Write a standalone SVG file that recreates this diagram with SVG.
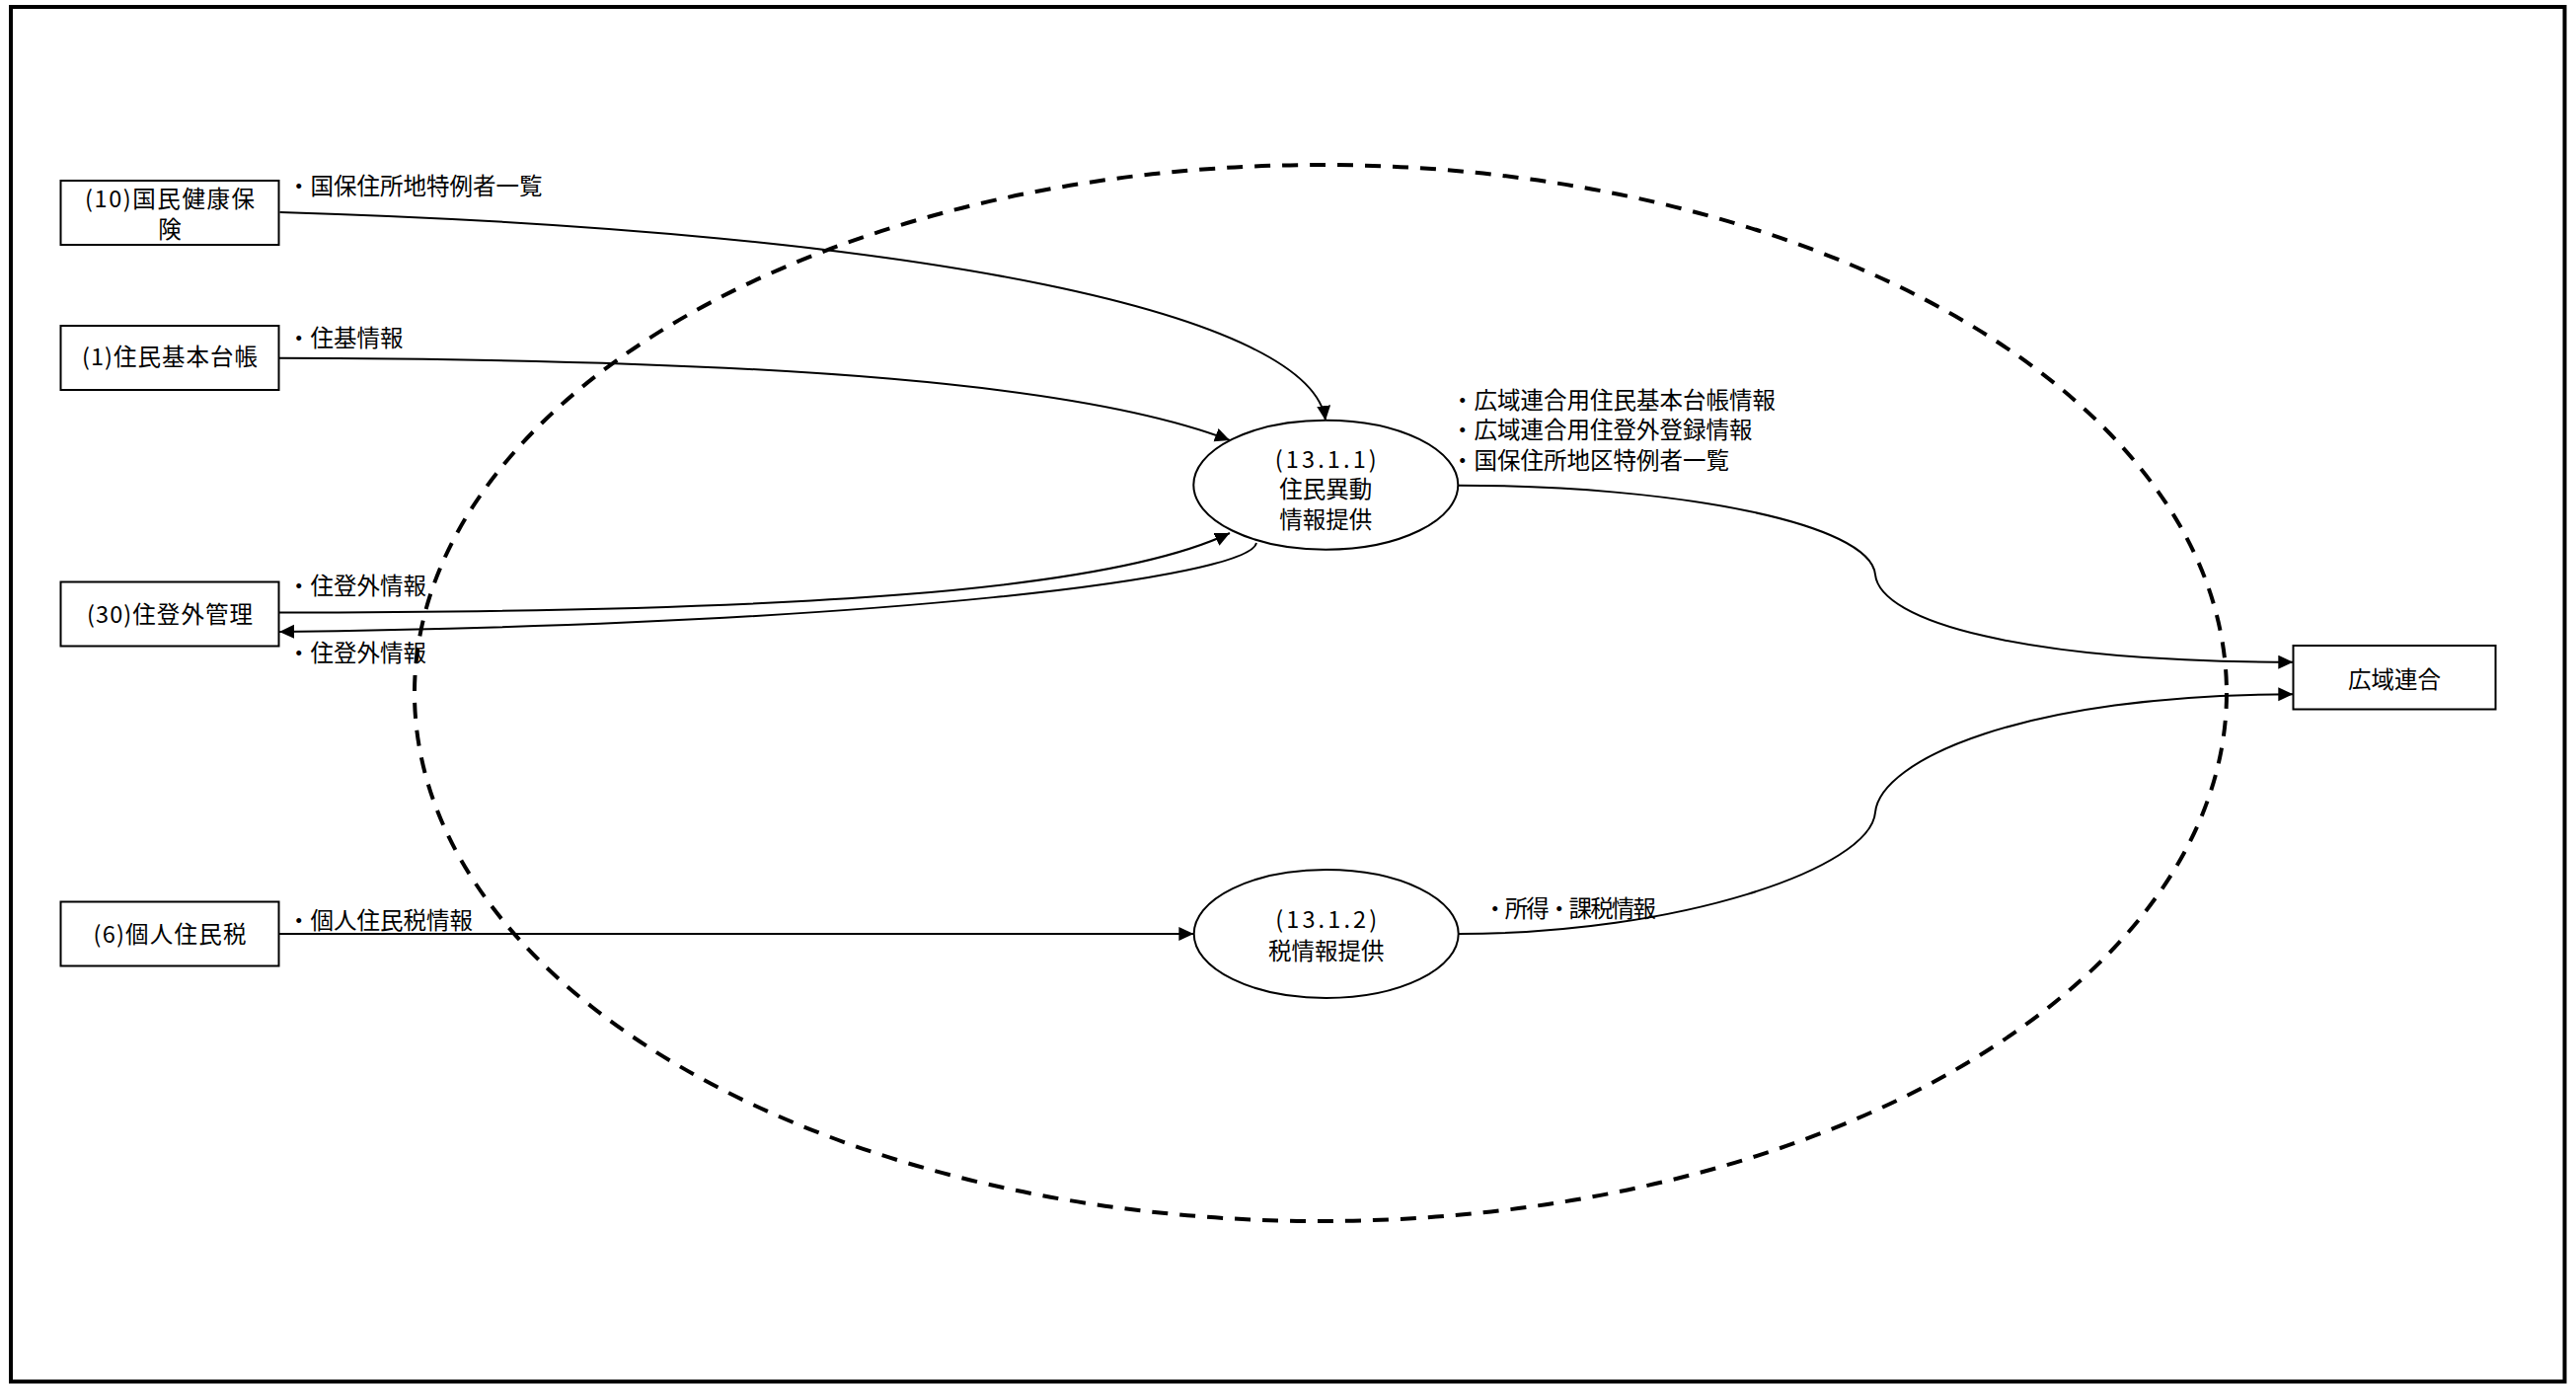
<svg xmlns="http://www.w3.org/2000/svg" width="2610" height="1402" viewBox="0 0 2610 1402">
<style>
  text { font-family: "Noto Sans CJK JP", "Noto Sans CJK SC", sans-serif; font-size: 23.5px; fill: #000; }
  .box { fill: #fff; stroke: #000; stroke-width: 2; }
  .proc { fill: #fff; stroke: #000; stroke-width: 2; }
  .mid { text-anchor: middle; }
  .edge { fill: none; stroke: #000; stroke-width: 2; }
  .arr { marker-end: url(#ah); }
  .boundary { fill: none; stroke: #000; stroke-width: 4; stroke-dasharray: 16 12; }
</style>
<defs>
  <marker id="ah" markerUnits="userSpaceOnUse" markerWidth="16" markerHeight="16" refX="15" refY="7" orient="auto">
    <path d="M0,0 L15,7 L0,14 z" fill="#000"/>
  </marker>
</defs>
<rect x="0" y="0" width="2610" height="1402" fill="#fff"/>
<rect x="11" y="7" width="2587.5" height="1392.5" fill="none" stroke="#000" stroke-width="4"/>

<g id="connectors">
  <path class="edge arr" d="M283.5,215 C950,235 1330,320 1343,426"/>
  <path class="edge arr" d="M283,362.7 C800,364 1100,390 1246,446"/>
  <path class="edge arr" d="M283,620.5 C800,620 1120,600 1246,540"/>
  <path class="edge arr" d="M1273,550 C1265,585 900,632 283,640"/>
  <path class="edge arr" d="M283,946 L1209.4,946"/>
  <path class="edge arr" d="M1477.3,491.7 C1700,492 1895,530 1900,582 C1905,630 2050,670.7 2323.3,670.7"/>
  <path class="edge arr" d="M1478,946 C1700,946 1895,880 1900,823 C1905,770 2050,703.3 2323.3,703.3"/>
  <text x="291" y="196.5">・国保住所地特例者一覧</text>
  <text x="291" y="351">・住基情報</text>
  <text x="291" y="601.7">・住登外情報</text>
  <text x="291" y="670">・住登外情報</text>
  <text x="291" y="941">・個人住民税情報</text>
  <text x="1470" y="413.5">・広域連合用住民基本台帳情報<tspan x="1470" y="443.5">・広域連合用住登外登録情報</tspan><tspan x="1470" y="475">・国保住所地区特例者一覧</tspan></text>
  <text x="1503" y="928.5" textLength="175" lengthAdjust="spacing">・所得・課税情報</text>
</g>

<g id="node-kokuho">
  <rect class="box" x="61.5" y="183" width="221" height="65"/>
  <text class="mid" x="172" y="210"><tspan x="172" y="210" textLength="172" lengthAdjust="spacing">(10)国民健康保</tspan><tspan x="172" y="240.5">険</tspan></text>
</g>
<g id="node-juki">
  <rect class="box" x="61.5" y="330" width="221" height="65"/>
  <text class="mid" x="172" y="370" textLength="178" lengthAdjust="spacing">(1)住民基本台帳</text>
</g>
<g id="node-jutogai">
  <rect class="box" x="61.5" y="589.5" width="221" height="65"/>
  <text class="mid" x="172" y="631" textLength="168" lengthAdjust="spacing">(30)住登外管理</text>
</g>
<g id="node-kojin">
  <rect class="box" x="61.5" y="913.5" width="221" height="65"/>
  <text class="mid" x="172" y="955" textLength="155" lengthAdjust="spacing">(6)個人住民税</text>
</g>
<g id="node-koiki">
  <rect class="box" x="2323.5" y="654" width="205" height="64.5"/>
  <text class="mid" x="2426" y="696.7">広域連合</text>
</g>
<g id="node-13-1-1">
  <ellipse class="proc" cx="1343.3" cy="491.2" rx="134" ry="65.5"/>
  <text class="mid" x="1343.3" y="474"><tspan x="1343.3" y="474" textLength="103" lengthAdjust="spacing">(13.1.1)</tspan><tspan x="1343.3" y="504">住民異動</tspan><tspan x="1343.3" y="534.5">情報提供</tspan></text>
</g>
<g id="node-13-1-2">
  <ellipse class="proc" cx="1343.7" cy="946" rx="134" ry="65"/>
  <text class="mid" x="1343.7" y="940"><tspan x="1343.7" y="940" textLength="103" lengthAdjust="spacing">(13.1.2)</tspan><tspan x="1343.7" y="971.5">税情報提供</tspan></text>
</g>
<g id="boundary">
  <ellipse class="boundary" cx="1338" cy="702" rx="918" ry="535"/>
</g>
</svg>
